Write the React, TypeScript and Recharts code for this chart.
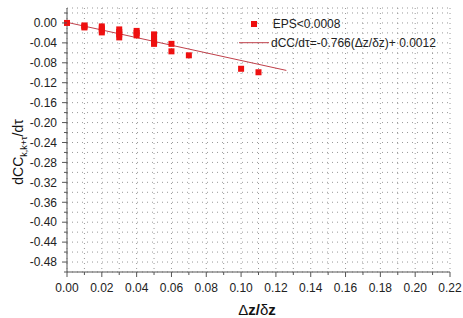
import { ComposedChart, Scatter, XAxis, YAxis, CartesianGrid, Legend } from 'recharts';

// axis ticks (majors are every other one on x, every other one on y)
const xTicks = [0, 0.01, 0.02, 0.03, 0.04, 0.05, 0.06, 0.07, 0.08, 0.09, 0.1, 0.11, 0.12, 0.13, 0.14, 0.15, 0.16, 0.17, 0.18, 0.19, 0.2, 0.21, 0.22];
const yTicks = [-0.5, -0.48, -0.46, -0.44, -0.42, -0.4, -0.38, -0.36, -0.34, -0.32, -0.3, -0.28, -0.26, -0.24, -0.22, -0.2, -0.18, -0.16, -0.14, -0.12, -0.1, -0.08, -0.06, -0.04, -0.02, 0, 0.02];

// EPS<0.0008 points
const epsX = [0, 0.01, 0.01, 0.01, 0.02, 0.02, 0.02, 0.02, 0.03, 0.03, 0.03, 0.03, 0.04, 0.04, 0.04, 0.05, 0.05, 0.05, 0.05, 0.05, 0.06, 0.06, 0.07, 0.1, 0.11];
const epsY = [0, -0.005, -0.007, -0.009, -0.007, -0.011, -0.015, -0.019, -0.013, -0.018, -0.023, -0.029, -0.016, -0.02, -0.025, -0.023, -0.028, -0.033, -0.038, -0.042, -0.042, -0.057, -0.065, -0.092, -0.099];

// fitted line endpoints
const fitX = [0, 0.126];
const fitY = [0.0012, -0.0953];

const epsData = epsX.map((x, i) => ({ x, y: epsY[i] }));
const fitData = fitX.map((x, i) => ({ x, y: fitY[i] }));

const FONT = '"Liberation Sans", Arial, sans-serif';
const AXIS = '#555';
const RED = '#ee1010';
const LINE = '#c0404a';

const isMajorX = (v: number) => Math.round(v * 100) % 2 === 0;
const isMajorY = (v: number) => Math.round(v * 100) % 4 === 0;

const BottomTick = (props: any) => {
    const { x, y, payload } = props;
    const major = isMajorX(payload.value);
    return (
        <g>
            <line x1={x} x2={x} y1={y} y2={y + (major ? 5 : 3)} stroke={AXIS} />
            {major && (
                <text x={x} y={y + 19.5} textAnchor="middle" fontSize={12} fontFamily={FONT} fill="#222">
                    {payload.value.toFixed(2)}
                </text>
            )}
        </g>
    );
};

const TopTick = (props: any) => {
    const { x, y, payload } = props;
    const major = isMajorX(payload.value);
    return <line x1={x} x2={x} y1={y} y2={y - (major ? 5 : 3)} stroke={AXIS} />;
};

const LeftTick = (props: any) => {
    const { x, y, payload } = props;
    const major = isMajorY(payload.value);
    return (
        <g>
            <line x1={x} x2={x - (major ? 5 : 3)} y1={y} y2={y} stroke={AXIS} />
            {major && (
                <text x={x - 10} y={y + 4.3} textAnchor="end" fontSize={12} fontFamily={FONT} fill="#222">
                    {payload.value.toFixed(2)}
                </text>
            )}
        </g>
    );
};

const RightTick = (props: any) => {
    const { x, y, payload } = props;
    const major = isMajorY(payload.value);
    return <line x1={x} x2={x + (major ? 5 : 3)} y1={y} y2={y} stroke={AXIS} />;
};

const XTitle = () => (
    <text x={257} y={315} textAnchor="middle" fontSize={15} fontFamily={FONT} fill="#111">
        <tspan>Δ</tspan>
        <tspan fontWeight="bold">z/</tspan>
        <tspan>δ</tspan>
        <tspan fontWeight="bold">z</tspan>
    </text>
);

const YTitle = () => (
    <text x={23} y={152} transform="rotate(-90, 23, 152)" textAnchor="middle" fontSize={14} fontFamily={FONT} fill="#111">
        dCC
        <tspan fontSize={9} dy={4}>k,k+τ</tspan>
        <tspan fontSize={14} dy={-4}>/dτ</tspan>
    </text>
);

const LegendBox = () => (
    <svg width={230} height={44} style={{ display: 'block' }}>
        <rect x={21} y={9} width={6} height={6} fill={RED} />
        <text x={42.7} y={16} fontSize={12} fontFamily={FONT} fill="#222">
            {'EPS<0.0008'}
        </text>
        <line x1={9} x2={39} y1={30.7} y2={30.7} stroke={LINE} />
        <text x={41} y={35} fontSize={12} fontFamily={FONT} fill="#222">
            {'dCC/dτ=-0.766(Δz/δz)+ 0.0012'}
        </text>
    </svg>
);

const Square = (props: any) => {
    const { cx, cy } = props;
    return <rect x={cx - 3} y={cy - 3} width={6} height={6} fill={RED} />;
};

export default function App() {
    return (
        <div style={{ position: 'absolute', left: 0, top: 0, width: 463, height: 318, background: '#fff', fontFamily: FONT }}>
            <ComposedChart width={463} height={318} margin={{ top: 8, right: 13, bottom: 0, left: 0 }}>
                <CartesianGrid stroke="#999" strokeDasharray="1 4" />
                <XAxis
                    type="number"
                    dataKey="x"
                    domain={[0, 0.22]}
                    ticks={xTicks}
                    interval={0}
                    height={46}
                    tickSize={0}
                    tickMargin={0}
                    tick={<BottomTick />}
                    stroke={AXIS}
                    label={{ content: () => <XTitle /> }}
                />
                <XAxis
                    xAxisId="top"
                    orientation="top"
                    type="number"
                    dataKey="x"
                    domain={[0, 0.22]}
                    ticks={xTicks}
                    interval={0}
                    height={0}
                    tickSize={0}
                    tickMargin={0}
                    tick={<TopTick />}
                    stroke={AXIS}
                />
                <YAxis
                    type="number"
                    dataKey="y"
                    domain={[-0.5, 0.03]}
                    ticks={yTicks}
                    interval={0}
                    width={67}
                    tickSize={0}
                    tickMargin={0}
                    tick={<LeftTick />}
                    stroke={AXIS}
                    label={{ content: () => <YTitle /> }}
                />
                <YAxis
                    yAxisId="right"
                    orientation="right"
                    type="number"
                    dataKey="y"
                    domain={[-0.5, 0.03]}
                    ticks={yTicks}
                    interval={0}
                    width={0}
                    tickSize={0}
                    tickMargin={0}
                    tick={<RightTick />}
                    stroke={AXIS}
                />
                <Legend
                    layout="horizontal"
                    verticalAlign="middle"
                    align="center"
                    content={() => <LegendBox />}
                    wrapperStyle={{ position: 'absolute', left: 230, top: 12, width: 230, height: 44 }}
                />
                <Scatter data={fitData} line={{ stroke: LINE, strokeWidth: 1 }} shape={() => <g />} isAnimationActive={false} legendType="none" />
                <Scatter data={epsData} shape={<Square />} isAnimationActive={false} />
            </ComposedChart>
        </div>
    );
}
